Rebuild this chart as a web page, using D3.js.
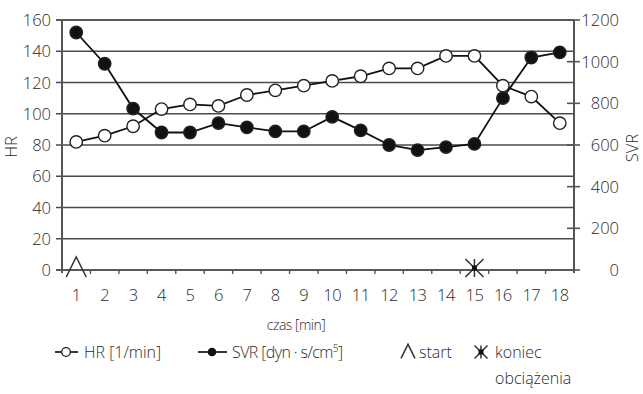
<!DOCTYPE html>
<html>
<head>
<meta charset="utf-8">
<script src="https://cdn.jsdelivr.net/npm/d3@7"></script>
<style>
  body { margin: 0; background: #fff; }
  svg text { font-family: "Open Sans", "Noto Sans", sans-serif; font-weight: 300; fill: #2a2a2a; }
</style>
</head>
<body>
<div id="chart"></div>
<script>
var minutes = [1,2,3,4,5,6,7,8,9,10,11,12,13,14,15,16,17,18];
var hrValues = [82,86,92,103,106,105,112,115,118,121,124,129,129,137,137,118,111,94];
var svrValues = [1140,990,775,660,660,705,685,665,665,735,670,600,575,590,605,825,1020,1045];
var hrTicks = [0,20,40,60,80,100,120,140,160];
var svrTicks = [0,200,400,600,800,1000,1200];
var startMinute = 1;
var endMinute = 15;

var Chart = (function(){
	var width = 643, height = 394;
	var plotLeft = 62, plotRight = 574, plotTop = 20, plotBottom = 270;
	var fs = 16.5;

	var svg = d3.select('#chart').append('svg')
	            .attr('width',width)
	            .attr('height',height);

	var x = d3.scaleBand().domain(minutes).range([plotLeft,plotRight]);
	var yHr = d3.scaleLinear().domain([0,160]).range([plotBottom,plotTop]);
	var ySvr = d3.scaleLinear().domain([0,1200]).range([plotBottom,plotTop]);
	var cx = function(m){ return x(m) + x.bandwidth()/2; };

	// gridlines
	svg.append('g').selectAll('line')
	   .data(hrTicks)
	   .enter().append('line')
	   .attr('x1',plotLeft-6)
	   .attr('x2',plotRight)
	   .attr('y1',function(d){ return yHr(d); })
	   .attr('y2',function(d){ return yHr(d); })
	   .attr('stroke',function(d){ return (d==160||d==0) ? '#222' : '#4a4a4a'; })
	   .attr('stroke-width',function(d){ return (d==160||d==0) ? 1.6 : 1.4; });

	// left axis
	svg.append('line').attr('x1',plotLeft).attr('x2',plotLeft).attr('y1',plotTop).attr('y2',plotBottom+3)
	   .attr('stroke','#555').attr('stroke-width',2);
	svg.append('g').selectAll('text')
	   .data(hrTicks)
	   .enter().append('text')
	   .attr('x',plotLeft-11)
	   .attr('y',function(d){ return yHr(d)+6; })
	   .attr('text-anchor','end')
	   .attr('font-size',fs)
	   .text(function(d){ return d; });

	// right axis
	svg.append('line').attr('x1',plotRight).attr('x2',plotRight).attr('y1',plotTop).attr('y2',plotBottom+3)
	   .attr('stroke','#555').attr('stroke-width',2);
	svg.append('g').selectAll('line')
	   .data(svrTicks)
	   .enter().append('line')
	   .attr('x1',function(d){ return (d==0||d==1200) ? plotRight : plotRight-7; })
	   .attr('x2',plotRight+6)
	   .attr('y1',function(d){ return ySvr(d); })
	   .attr('y2',function(d){ return ySvr(d); })
	   .attr('stroke','#555').attr('stroke-width',1.6);
	svg.append('g').selectAll('text')
	   .data(svrTicks)
	   .enter().append('text')
	   .attr('x',plotRight+45)
	   .attr('y',function(d){ return ySvr(d)+6; })
	   .attr('text-anchor','end')
	   .attr('font-size',fs)
	   .text(function(d){ return d; });

	// x ticks between categories
	svg.append('g').selectAll('line')
	   .data(minutes.slice(1))
	   .enter().append('line')
	   .attr('x1',function(d){ return x(d); })
	   .attr('x2',function(d){ return x(d); })
	   .attr('y1',plotBottom-1)
	   .attr('y2',plotBottom+4)
	   .attr('stroke','#555').attr('stroke-width',1.4);
	svg.append('g').selectAll('text')
	   .data(minutes)
	   .enter().append('text')
	   .attr('x',function(d){ return cx(d); })
	   .attr('y',plotBottom+31)
	   .attr('text-anchor','middle')
	   .attr('font-size',fs)
	   .attr('letter-spacing',-0.5)
	   .text(function(d){ return d; });

	// axis titles
	svg.append('text').attr('transform','translate(17,147) rotate(-90)')
	   .attr('text-anchor','middle').attr('font-size',fs).text('HR');
	svg.append('text').attr('transform','translate(638,148) rotate(-90)')
	   .attr('text-anchor','middle').attr('font-size',fs).text('SVR');
	svg.append('text').attr('x',296).attr('y',330)
	   .attr('text-anchor','middle').attr('font-size',14).attr('letter-spacing',-0.5).text('czas [min]');

	// series
	function drawSeries(values,scale,fill){
		var line = d3.line()
		             .x(function(d,i){ return cx(minutes[i]); })
		             .y(function(d){ return scale(d); });
		svg.append('path').datum(values)
		   .attr('d',line)
		   .attr('fill','none')
		   .attr('stroke','#111')
		   .attr('stroke-width',1.8);
		svg.append('g').selectAll('circle')
		   .data(values)
		   .enter().append('circle')
		   .attr('cx',function(d,i){ return cx(minutes[i]); })
		   .attr('cy',function(d){ return scale(d); })
		   .attr('r',6.2)
		   .attr('fill',fill)
		   .attr('stroke','#222')
		   .attr('stroke-width',1.4);
	}
	drawSeries(hrValues,yHr,'#fff');
	drawSeries(svrValues,ySvr,'#111');

	// markers
	function lambda(g,px,py,s){
		g.append('path')
		 .attr('d','M'+(px-s*0.5)+','+(py+s*0.45)+'L'+px+','+(py-s*0.55)+'L'+(px+s*0.5)+','+(py+s*0.45))
		 .attr('fill','none').attr('stroke','#333').attr('stroke-width',1.5);
	}
	function star(g,px,py,s){
		var h = s/2;
		g.append('path')
		 .attr('d','M'+(px-h)+','+(py-h)+'L'+(px+h)+','+(py+h)+
		           'M'+(px+h)+','+(py-h)+'L'+(px-h)+','+(py+h)+
		           'M'+px+','+(py-h)+'L'+px+','+(py+h))
		 .attr('fill','none').attr('stroke','#333').attr('stroke-width',1.5);
		g.append('rect').attr('x',px-2.5).attr('y',py-2.5).attr('width',5).attr('height',5).attr('fill','#111');
	}
	lambda(svg,cx(startMinute),plotBottom-2,20);
	star(svg,cx(endMinute),plotBottom-2,18);

	// legend
	var ly = 352;
	var lfs = 16;
	var leg = svg.append('g');
	leg.append('line').attr('x1',55).attr('x2',78).attr('y1',ly).attr('y2',ly).attr('stroke','#222').attr('stroke-width',1.8);
	leg.append('circle').attr('cx',66).attr('cy',ly).attr('r',4.3).attr('fill','#fff').attr('stroke','#222').attr('stroke-width',1.3);
	leg.append('text').attr('x',84).attr('y',ly+6).attr('font-size',lfs).text('HR [1/min]');
	leg.append('line').attr('x1',198).attr('x2',227).attr('y1',ly).attr('y2',ly).attr('stroke','#222').attr('stroke-width',1.8);
	leg.append('circle').attr('cx',212).attr('cy',ly).attr('r',4.3).attr('fill','#111');
	var svrLabel = leg.append('text').attr('x',232).attr('y',ly+6).attr('font-size',lfs).attr('letter-spacing',-0.6);
	svrLabel.append('tspan').text('SVR [dyn · s/cm');
	svrLabel.append('tspan').attr('font-size',10).attr('dy',-6).text('5');
	svrLabel.append('tspan').attr('dy',6).text(']');
	lambda(leg,408,ly,14);
	leg.append('text').attr('x',419).attr('y',ly+6).attr('font-size',lfs).text('start');
	star(leg,481,ly,13);
	leg.append('text').attr('x',495).attr('y',ly+6).attr('font-size',lfs).text('koniec');
	leg.append('text').attr('x',495).attr('y',ly+32).attr('font-size',lfs).text('obciążenia');

	return svg;
})();
</script>
</body>
</html>
